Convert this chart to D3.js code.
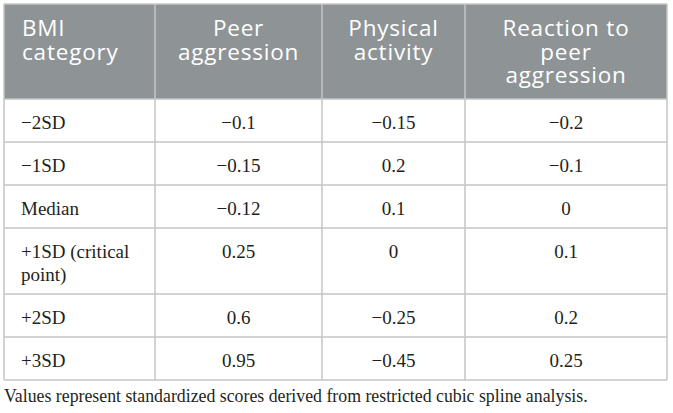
<!DOCTYPE html>
<html>
<head>
<meta charset="utf-8">
<script src="https://cdn.jsdelivr.net/npm/d3@7"></script>
<style>
  body { margin: 0; background: #fff; }
</style>
</head>
<body>
<script>
// table content
const headers = [["BMI", "category"], ["Peer", "aggression"], ["Physical", "activity"], ["Reaction to", "peer", "aggression"]];
const categories = [["−2SD"], ["−1SD"], ["Median"], ["+1SD (critical", "point)"], ["+2SD"], ["+3SD"]];
const peerAggression = ["−0.1", "−0.15", "−0.12", "0.25", "0.6", "0.95"];
const physicalActivity = ["−0.15", "0.2", "0.1", "0", "−0.25", "−0.45"];
const reaction = ["−0.2", "−0.1", "0", "0.1", "0.2", "0.25"];
const caption = "Values represent standardized scores derived from restricted cubic spline analysis.";

const W = 673, H = 413;
const tLeft = 4, tRight = 667, tTop = 4;
const colEdges = [tLeft, 155, 322, 465, tRight];
const headerH = 95, rowH = 43, lineH = 23;

const svg = d3.select("body").append("svg")
    .attr("width", W)
    .attr("height", H);

// row heights from number of lines
const rowHeights = categories.map(c => rowH + (c.length - 1) * lineH);
const rowTops = [];
let yPos = tTop + headerH;
rowHeights.forEach(h => { rowTops.push(yPos); yPos += h; });
const tableBottom = yPos;

// header
svg.append("rect")
    .attr("x", tLeft).attr("y", tTop)
    .attr("width", tRight - tLeft).attr("height", headerH)
    .attr("fill", "#8e9495");

const headG = svg.append("g");
headers.forEach((lines, i) => {
    const x0 = colEdges[i], x1 = colEdges[i + 1];
    const t = headG.append("text")
        .attr("font-family", "'Open Sans', sans-serif")
        .attr("font-size", 22.5)
        .attr("letter-spacing", 0.8)
        .attr("fill", "#fff")
        .attr("text-anchor", i === 0 ? "start" : "middle");
    lines.forEach((l, k) => {
        t.append("tspan")
            .attr("x", i === 0 ? x0 + 18 : (x0 + x1) / 2)
            .attr("y", tTop + 32 + k * 23.5)
            .text(l);
    });
});

// body text
const bodyCols = [categories, peerAggression.map(v => [v]), physicalActivity.map(v => [v]), reaction.map(v => [v])];
const bodyG = svg.append("g");
bodyCols.forEach((col, i) => {
    const x0 = colEdges[i], x1 = colEdges[i + 1];
    col.forEach((lines, r) => {
        const t = bodyG.append("text")
            .attr("font-family", "'Liberation Serif', 'Times New Roman', serif")
            .attr("font-size", 19)
            .attr("fill", "#231f20")
            .attr("text-anchor", i === 0 ? "start" : "middle");
        lines.forEach((l, k) => {
            t.append("tspan")
                .attr("x", i === 0 ? x0 + 17 : (x0 + x1) / 2)
                .attr("y", rowTops[r] + 30 + k * lineH)
                .text(l);
        });
    });
});

// grid lines
const grid = svg.append("g")
    .attr("stroke", "#c4c4c4")
    .attr("stroke-width", 1.5);
[tTop].concat(rowTops, [tableBottom]).forEach(yy => {
    grid.append("line")
        .attr("x1", tLeft).attr("x2", tRight)
        .attr("y1", yy).attr("y2", yy);
});
colEdges.forEach(xx => {
    grid.append("line")
        .attr("x1", xx).attr("x2", xx)
        .attr("y1", tTop).attr("y2", tableBottom);
});

// caption
svg.append("text")
    .attr("x", tLeft)
    .attr("y", tableBottom + 22)
    .attr("font-family", "'Liberation Serif', 'Times New Roman', serif")
    .attr("font-size", 17.8)
    .attr("fill", "#231f20")
    .text(caption);
</script>
</body>
</html>
